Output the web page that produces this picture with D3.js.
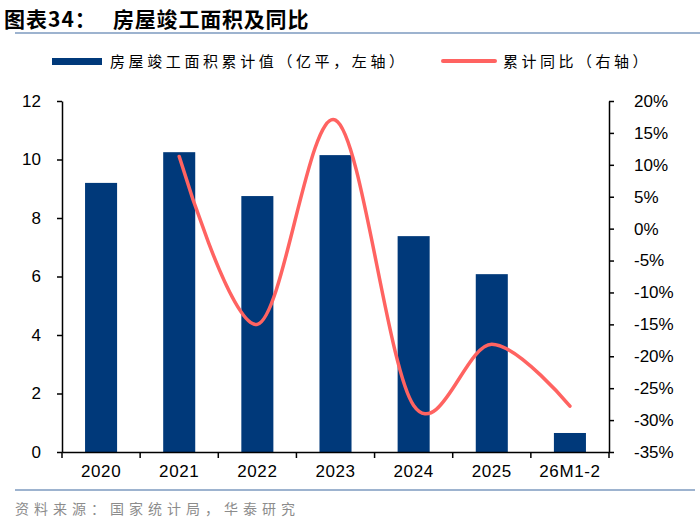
<!DOCTYPE html>
<html>
<head>
<meta charset="utf-8">
<script src="https://cdn.jsdelivr.net/npm/d3@7"></script>
<style>
  body { margin: 0; background: #fff; }
  svg { display: block; }
</style>
</head>
<body>
<script>
// * Data
const categories = ["2020", "2021", "2022", "2023", "2024", "2025", "26M1-2"];
const areaValues = [9.2, 10.25, 8.75, 10.15, 7.38, 6.08, 0.65];
// yoy starts from 2021
const yoyCategories = ["2021", "2022", "2023", "2024", "2025", "26M1-2"];
const yoyValues = [11.3, -15.0, 17.0, -27.7, -18.1, -27.8];
const leftTicks = [0, 2, 4, 6, 8, 10, 12];
const rightTicks = [20, 15, 10, 5, 0, -5, -10, -15, -20, -25, -30, -35];

// * Size & Margins
const width = 700;
const height = 529;
const plot = { left: 62, right: 609, top: 101, bottom: 452 };

const barColor = "#00397A";
const lineColor = "#FF6361";
const cjk = "'Noto Sans CJK SC', sans-serif";
const latin = "'Liberation Sans', Arial, sans-serif";

const svg = d3.select("body").append("svg")
	.attr("width", width)
	.attr("height", height);

// * Title
const title = svg.append("text")
	.attr("x", 4)
	.attr("y", 27)
	.attr("font-family", cjk)
	.attr("font-weight", "bold")
	.attr("font-size", 21)
	.attr("fill", "#000");
title.append("tspan").attr("letter-spacing", 1).text("图表34：");
title.append("tspan").attr("x", 113).attr("letter-spacing", 0.8).text("房屋竣工面积及同比");

svg.append("line")
	.attr("x1", 15).attr("x2", 700)
	.attr("y1", 33).attr("y2", 33)
	.attr("stroke", "#9DB3CF")
	.attr("stroke-width", 2);

// * Legend
svg.append("rect")
	.attr("x", 52).attr("y", 58)
	.attr("width", 50).attr("height", 7)
	.attr("fill", barColor);
svg.append("text")
	.attr("x", 110).attr("y", 67)
	.attr("font-family", cjk)
	.attr("font-size", 15)
	.attr("letter-spacing", 3.6)
	.text("房屋竣工面积累计值（亿平，左轴）");

svg.append("line")
	.attr("x1", 443).attr("x2", 495)
	.attr("y1", 61).attr("y2", 61)
	.attr("stroke", lineColor)
	.attr("stroke-width", 4)
	.attr("stroke-linecap", "round");
svg.append("text")
	.attr("x", 503).attr("y", 67)
	.attr("font-family", cjk)
	.attr("font-size", 15)
	.attr("letter-spacing", 3.5)
	.text("累计同比（右轴）");

// * Scales
const x = d3.scaleBand()
	.domain(categories)
	.range([plot.left, plot.right])
	.paddingInner(0.59)
	.paddingOuter(0.295);

const yLeft = d3.scaleLinear()
	.domain([0, 12])
	.range([plot.bottom, plot.top]);

const yRight = d3.scaleLinear()
	.domain([-35, 20])
	.range([plot.bottom, plot.top]);

// * Bars
svg.append("g")
	.selectAll("rect")
	.data(categories)
	.join("rect")
	.attr("x", (d) => x(d))
	.attr("y", (d, i) => yLeft(areaValues[i]))
	.attr("width", x.bandwidth())
	.attr("height", (d, i) => yLeft(0) - yLeft(areaValues[i]))
	.attr("fill", barColor);

// * Line (smoothed like Excel)
const line = d3.line()
	.x((d) => x(d[0]) + x.bandwidth() / 2)
	.y((d) => yRight(d[1]))
	.curve(d3.curveCardinal.tension(0));

svg.append("path")
	.datum(yoyCategories.map((c, i) => [c, yoyValues[i]]))
	.attr("d", line)
	.attr("fill", "none")
	.attr("stroke", lineColor)
	.attr("stroke-width", 3.5)
	.attr("stroke-linecap", "round");

// * Axes
function styleAxis(g) {
	g.selectAll("path, line").attr("stroke", "#000").attr("stroke-width", 1.5);
	g.selectAll("text")
		.attr("font-family", latin)
		.attr("font-size", 17)
		.attr("fill", "#000");
}

svg.append("g")
	.attr("transform", `translate(${plot.left},0)`)
	.call(d3.axisLeft(yLeft).tickValues(leftTicks).tickSize(5).tickSizeOuter(0).tickPadding(16))
	.call(styleAxis);

svg.append("g")
	.attr("transform", `translate(${plot.right},0)`)
	.call(d3.axisRight(yRight).tickValues(rightTicks).tickSize(5).tickSizeOuter(0).tickPadding(20)
		.tickFormat((d) => d + "%"))
	.call(styleAxis);

// bottom axis: labels at band centres, ticks at band edges
const bottom = svg.append("g")
	.attr("transform", `translate(0,${plot.bottom})`)
	.call(d3.axisBottom(x).tickSize(0).tickSizeOuter(0).tickPadding(13))
	.call(styleAxis);
bottom.selectAll("text").attr("dy", "0.71em").attr("letter-spacing", 0.6);

const edges = categories.map((c) => x(c) - (x.step() - x.bandwidth()) / 2).concat([plot.right]);
bottom.selectAll(".edge")
	.data(edges)
	.join("line")
	.attr("class", "edge")
	.attr("x1", (d) => d).attr("x2", (d) => d)
	.attr("y1", 0).attr("y2", 6)
	.attr("stroke", "#000")
	.attr("stroke-width", 1.5);

// * Source
svg.append("line")
	.attr("x1", 15).attr("x2", 695)
	.attr("y1", 490).attr("y2", 490)
	.attr("stroke", "#9DB3CF")
	.attr("stroke-width", 2);

svg.append("text")
	.attr("x", 15).attr("y", 514)
	.attr("font-family", cjk)
	.attr("font-size", 14)
	.attr("letter-spacing", 5)
	.attr("fill", "#8C8C8C")
	.text("资料来源：国家统计局，华泰研究");
</script>
</body>
</html>
